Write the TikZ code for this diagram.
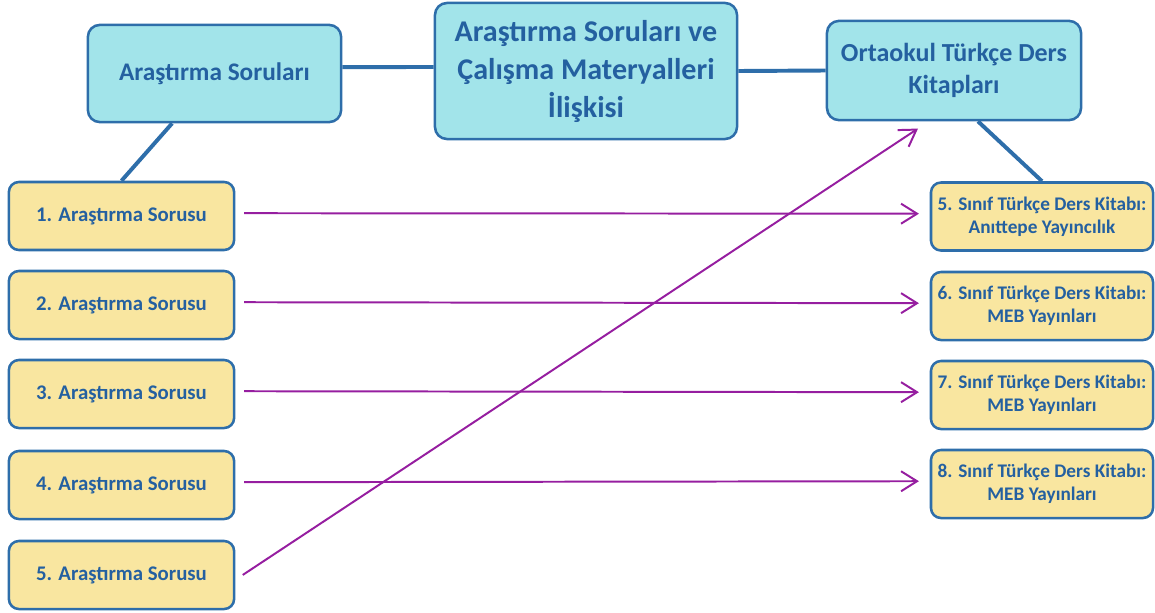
\documentclass[tikz,border=0pt]{standalone}
\usepackage{fontspec}
\setmainfont{Carlito}
\usepackage{tikz}
\usetikzlibrary{%
    arrows.meta%
}
\definecolor{boxblue}{RGB}{162,228,234}
\definecolor{boxyellow}{RGB}{249,230,160}
\definecolor{edgeblue}{RGB}{46,110,170}
\definecolor{textblue}{RGB}{36,96,160}
\definecolor{arrowpurple}{RGB}{150,30,160}

\begin{document}
\begin{tikzpicture}[
  x=0.025cm, y=-0.025cm,
  box/.style={draw=edgeblue,line width=1.8pt,text=textblue,align=center,
    inner sep=0pt},
  head/.style={box,fill=boxblue,rounded corners=0.3cm},
  item/.style={box,fill=boxyellow,rounded corners=0.25cm,
    minimum height=1.7cm,font={\fontsize{13.7}{16.5}\selectfont\bfseries}},
  link/.style={draw=edgeblue,line width=2.8pt},
  relation/.style={draw=arrowpurple,line width=1.4pt,
    -{Straight Barb[length=0.4cm,width=0.5cm]}},
  ]
  % Frame
  \useasboundingbox (0,0) rectangle (1155,612);
  % Top row
  \node[head,minimum width=6.33cm,minimum height=2.43cm,
    font={\fontsize{18}{22}\selectfont\bfseries}]
    (questions) at (214.5,73.5) {Araştırma Soruları};
  \node[head,minimum width=7.55cm,minimum height=3.4cm,
    font={\fontsize{21.4}{27}\selectfont\bfseries}]
    (relation) at (586,71) {Araştırma Soruları ve\\Çalışma Materyalleri\\İlişkisi};
  \node[head,minimum width=6.35cm,minimum height=2.48cm,
    font={\fontsize{18.5}{22.7}\selectfont\bfseries}]
    (books) at (954,70.5) {Ortaokul Türkçe Ders\\Kitapları};
  % Research questions
  \foreach \i/\y in {1/216,2/305,3/394,4/485,5/575}
    \node[item,minimum width=5.63cm,font={\fontsize{14.8}{17}\selectfont\bfseries}]
      (q\i) at (121.5,\y) {\i. Araştırma Sorusu};
  % Textbooks
  \node[item,minimum width=5.55cm] (b5) at (1042,216.5)
    {5. Sınıf Türkçe Ders Kitabı:\\Anıttepe Yayıncılık};
  \node[item,minimum width=5.55cm] (b6) at (1042,306)
    {6. Sınıf Türkçe Ders Kitabı:\\MEB Yayınları};
  \node[item,minimum width=5.55cm] (b7) at (1042,395)
    {7. Sınıf Türkçe Ders Kitabı:\\MEB Yayınları};
  \node[item,minimum width=5.55cm] (b8) at (1042,484)
    {8. Sınıf Türkçe Ders Kitabı:\\MEB Yayınları};
  % Blue connectors
  \draw[link] ([yshift=0.16cm]questions.east) -- ([yshift=0.1cm]relation.west);
  \draw[link] (relation.east) -- (books.west);
  \draw[link] ([xshift=-1.06cm]questions.south) -- (q1.north);
  \draw[link] ([xshift=0.6cm]books.south) -- (b5.north);
  % Purple arrows
  \foreach \i/\j in {1/5,2/6,3/7,4/8}
    \draw[relation,shorten <=0.22cm,shorten >=0.27cm]
      ([yshift=0.07cm]q\i.east) -- ([yshift=0.07cm]b\j.west);
  \draw[relation,shorten <=0.22cm]
    ([yshift=-0.12cm]q5.east) -- ([xshift=-0.9cm,yshift=-0.18cm]books.south);
\end{tikzpicture}
\end{document}
